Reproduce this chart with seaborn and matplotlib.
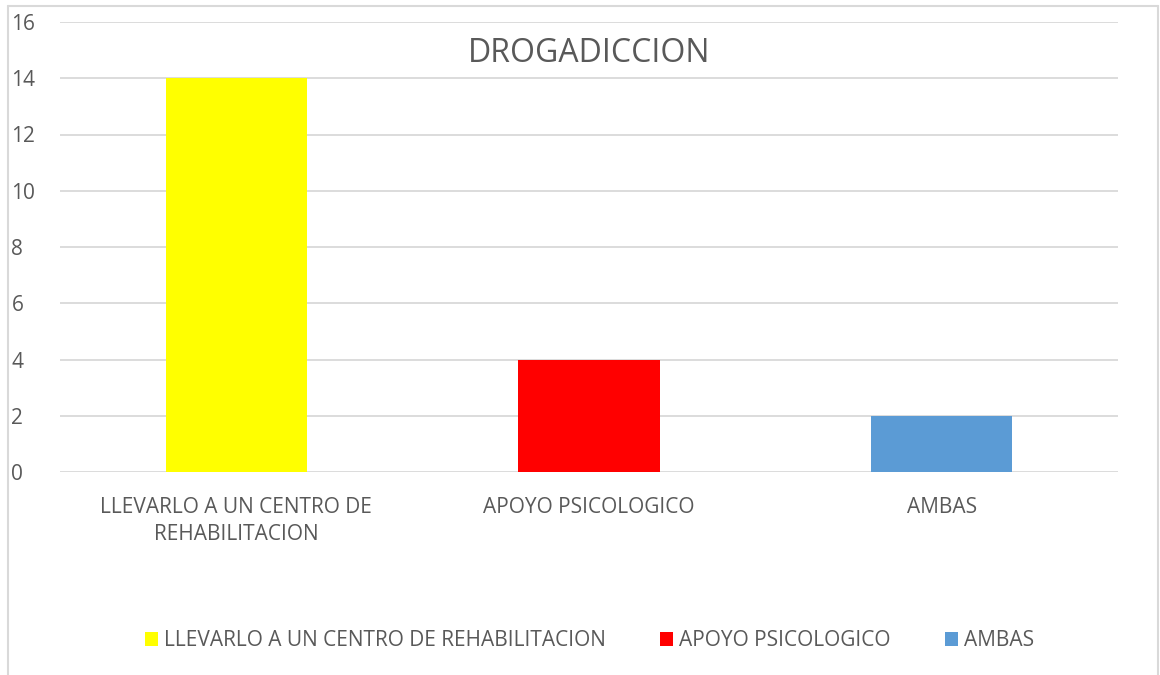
import matplotlib
matplotlib.use("Agg")
import matplotlib.pyplot as plt
from matplotlib.lines import Line2D
from matplotlib.patches import Patch
import seaborn as sns
import pandas as pd

categories = ["LLEVARLO A UN CENTRO DE REHABILITACION", "APOYO PSICOLOGICO", "AMBAS"]
tick_labels = ["LLEVARLO A UN CENTRO DE\nREHABILITACION", "APOYO PSICOLOGICO", "AMBAS"]
values = [14, 4, 2]
colors = ["#FFFF00", "#FF0000", "#5B9BD5"]

sns.set_theme(style="white")
plt.rcParams["font.family"] = ["Open Sans", "DejaVu Sans"]

df = pd.DataFrame({"categoria": categories, "valor": values})

fig = plt.figure(figsize=(11.6, 6.75), dpi=100)
ax = fig.add_axes([60 / 1160, 1 - 472 / 675, 1058 / 1160, 450 / 675])

sns.barplot(data=df, x="categoria", y="valor", hue="categoria", palette=colors,
            dodge=False, width=0.4, legend=False, ax=ax, saturation=1, linewidth=0)

ax.set_ylim(0, 16)
ax.set_yticks(range(0, 17, 2))
ax.set_xlim(-0.5, 2.5)
ax.yaxis.grid(True, color="#d9d9d9", linewidth=1.3)
ax.set_axisbelow(True)
for s in ax.spines.values():
    s.set_visible(False)
ax.set_xlabel("")
ax.set_ylabel("")
ax.set_xticks(range(len(categories)))
ax.set_xticklabels(tick_labels, linespacing=1.4)
ax.tick_params(axis="x", colors="#595959", labelsize=15, length=0, pad=18)
ax.tick_params(axis="y", colors="#595959", labelsize=15, length=0, pad=35)
for t in ax.get_yticklabels():
    t.set_horizontalalignment("left")
ax.text(0.5, 0.93, "DROGADICCION", transform=ax.transAxes, ha="center", va="center",
        fontsize=23, color="#595959")

handles = [Patch(facecolor=c, edgecolor="none") for c in colors]
fig.legend(handles, categories, loc="center", bbox_to_anchor=(0.508, 1 - 641 / 675),
           ncol=3, frameon=False, fontsize=15, labelcolor="#595959",
           handlelength=0.62, handleheight=0.62, handletextpad=0.3, columnspacing=2.6)

# chart frame
fig.add_artist(Line2D([8 / 1160, 8 / 1160], [0, 1 - 6 / 675], color="#d9d9d9", linewidth=1.5))
fig.add_artist(Line2D([8 / 1160, 1158 / 1160], [1 - 6 / 675, 1 - 6 / 675], color="#d9d9d9", linewidth=1.5))
fig.add_artist(Line2D([1158 / 1160, 1158 / 1160], [0, 1 - 6 / 675], color="#d9d9d9", linewidth=1.5))

fig.savefig("out.png", dpi=100)
